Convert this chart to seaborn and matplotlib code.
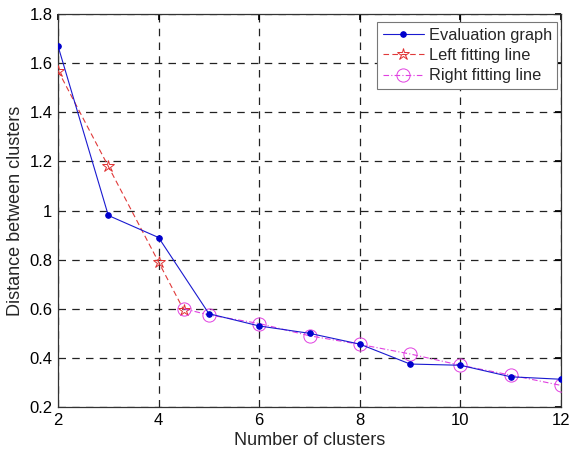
import numpy as np
import pandas as pd
import matplotlib
matplotlib.use("Agg")
import matplotlib.pyplot as plt
from matplotlib.ticker import FuncFormatter
import seaborn as sns

# Cluster-count evaluation curve and the two fitted lines
clusters = [2, 3, 4, 5, 6, 7, 8, 9, 10, 11, 12]
evaluation = [1.67, 0.98, 0.89, 0.58, 0.53, 0.50, 0.456, 0.375, 0.37, 0.323, 0.313]

left_x = [2, 3, 4, 4.5]
left_y = [1.57, 1.18, 0.79, 0.595]

right_x = [4.5, 5, 6, 7, 8, 9, 10, 11, 12]
right_y = [0.60, 0.575, 0.54, 0.49, 0.455, 0.416, 0.37, 0.33, 0.288]

x_ticks = [2, 4, 6, 8, 10, 12]
y_ticks = [0.2, 0.4, 0.6, 0.8, 1.0, 1.2, 1.4, 1.6, 1.8]

sns.set_theme(style="white")
plt.rcParams["font.family"] = ["Liberation Sans", "DejaVu Sans"]

fig = plt.figure(figsize=(5.71, 4.54), dpi=100)
ax = fig.add_axes([0.1016, 0.1035, 0.8809, 0.8655])

eval_df = pd.DataFrame({"x": clusters, "y": evaluation})
left_df = pd.DataFrame({"x": left_x, "y": left_y})
right_df = pd.DataFrame({"x": right_x, "y": right_y})

sns.lineplot(data=eval_df, x="x", y="y", ax=ax, color="#1a1ad0", lw=0.8,
             marker="o", markersize=4, markerfacecolor="#0000cc",
             markeredgecolor="#0000cc", label="Evaluation graph", zorder=4)
sns.lineplot(data=left_df, x="x", y="y", ax=ax, color="#e03a3a", lw=0.8,
             linestyle=(0, (5, 3)), marker="*", markersize=9,
             markerfacecolor="none", markeredgecolor="#e03030",
             markeredgewidth=0.7, label="Left fitting line", zorder=3)
sns.lineplot(data=right_df, x="x", y="y", ax=ax, color="#e040e0", lw=0.8,
             linestyle=(0, (5, 2, 1, 2)), marker="o", markersize=9.5,
             markerfacecolor="none", markeredgecolor="#e040e0",
             markeredgewidth=0.7, label="Right fitting line", zorder=3)

ax.set_xlim(2, 12)
ax.set_ylim(0.2, 1.8)
ax.set_xticks(x_ticks)
ax.set_yticks(y_ticks)
ax.yaxis.set_major_formatter(FuncFormatter(lambda v, p: f"{v:g}"))
ax.grid(True, color="#222222", linestyle=(0, (6, 5)), lw=0.9)
ax.tick_params(direction="in", length=4, labelsize=12, colors="black",
               top=True, right=True, pad=4)
for s in ax.spines.values():
    s.set_color("#333333")
    s.set_linewidth(0.9)

ax.set_xlabel("Number of clusters", fontsize=13, labelpad=3)
ax.set_ylabel("Distance between clusters", fontsize=13, labelpad=4)

leg = ax.legend(loc="upper right", bbox_to_anchor=(0.993, 0.98),
                fontsize=11.8, frameon=True, fancybox=False,
                borderpad=0.35, labelspacing=0.33, handlelength=2.5,
                handletextpad=0.3, borderaxespad=0, framealpha=1)
leg.get_frame().set_edgecolor("#777777")
leg.get_frame().set_linewidth(0.8)

fig.savefig("out.png", dpi=100)
